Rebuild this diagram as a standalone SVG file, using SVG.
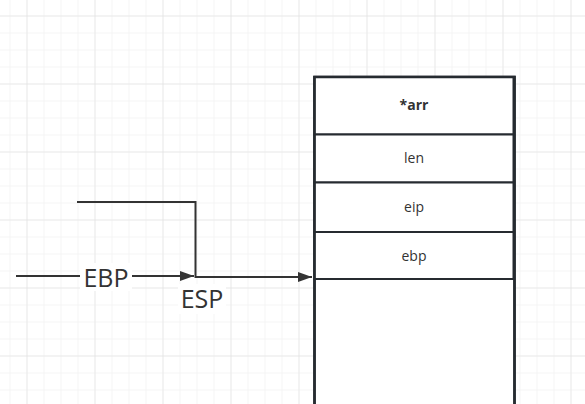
<svg xmlns="http://www.w3.org/2000/svg" width="585" height="404" viewBox="0 0 585 404">
<defs>
<pattern id="minor" x="9.5" y="15.5" width="17" height="17" patternUnits="userSpaceOnUse">
<path d="M0 0H17M0 0V17" fill="none" stroke="#ebebeb" stroke-width="1"/>
</pattern>
<pattern id="major" x="26.5" y="15.5" width="68" height="68" patternUnits="userSpaceOnUse">
<path d="M0 0H68M0 0V68" fill="none" stroke="#dddddd" stroke-width="1"/>
</pattern>
<marker id="arr" markerWidth="14" markerHeight="10" refX="14" refY="5" orient="auto" markerUnits="userSpaceOnUse">
<path d="M0 0L14 5L0 10Z" fill="#333"/>
</marker>
</defs>
<style>
.cell{fill:#fff;stroke:#262b30;stroke-width:2}
.t{font-family:"Open Sans","Liberation Sans",sans-serif;font-size:14px;fill:#333;text-anchor:middle}
.lbl{font-family:"Open Sans","Liberation Sans",sans-serif;font-size:25px;fill:#333;text-anchor:middle}
.ln{fill:none;stroke:#333;stroke-width:2}
</style>
<rect width="585" height="404" fill="#fff"/>
<rect width="585" height="404" fill="url(#minor)"/>
<rect width="585" height="404" fill="url(#major)"/>
<g id="stack">
<rect x="314.5" y="77" width="200" height="340" fill="#fff" stroke="#262b30" stroke-width="2.5"/>
</g>
<g id="cell-arr"><rect class="cell" x="314.5" y="77" width="199" height="57.5"/><text class="t" x="414" y="110" font-weight="bold">*arr</text></g>
<g id="cell-len"><rect class="cell" x="314.5" y="134.5" width="199" height="48"/><text class="t" x="414" y="163">len</text></g>
<g id="cell-eip"><rect class="cell" x="314.5" y="182.5" width="199" height="49.5"/><text class="t" x="414" y="212">eip</text></g>
<g id="cell-ebp"><rect class="cell" x="314.5" y="232" width="199" height="47"/><text class="t" x="414" y="261">ebp</text></g>
<g id="outline"><rect x="314.5" y="77" width="200" height="340" fill="none" stroke="#262b30" stroke-width="2.5"/></g>
<g id="connectors">
<path class="ln" d="M16 276H194" marker-end="url(#arr)"/>
<path class="ln" d="M77 202H195.5V277H312" marker-end="url(#arr)"/>
</g>
<g id="label-ebp"><rect x="80" y="263" width="52" height="28" fill="#fff"/><text class="lbl" x="106" y="287">EBP</text></g>
<g id="label-esp"><rect x="178" y="284" width="48" height="30" fill="#fff"/><text class="lbl" x="202" y="308">ESP</text></g>
</svg>
